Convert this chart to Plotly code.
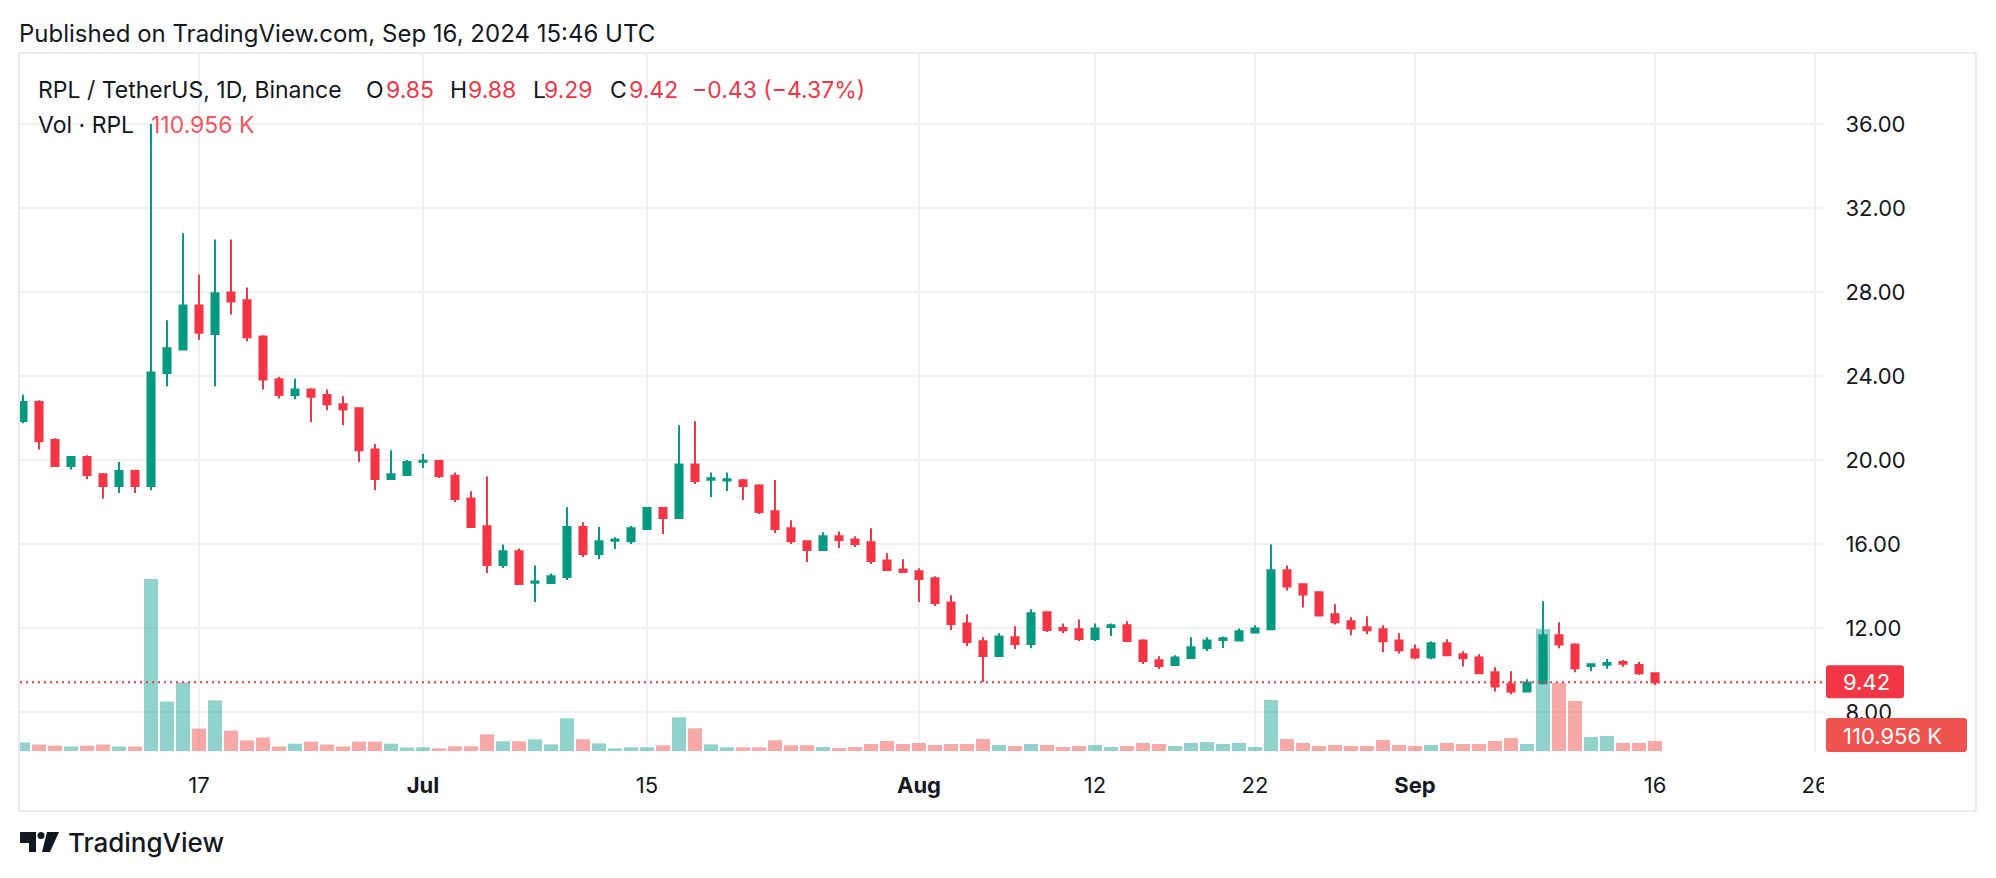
import plotly.graph_objects as go
import pandas as pd

# ---------------- data ----------------
dates = pd.date_range("2024-06-06", "2024-09-16", freq="D")

opens = [21.86, 22.76, 20.95, 19.71, 20.14, 19.32, 18.76, 19.48, 18.76, 24.14,
         25.26, 27.36, 26.00, 27.98, 27.61, 25.88, 23.84, 23.09, 23.36, 23.09,
         22.66, 22.47, 20.50, 19.09, 19.28, 19.92, 19.95, 19.25, 18.17, 16.84,
         15.00, 15.65, 14.16, 14.14, 14.43, 16.81, 15.52, 16.16, 16.13, 16.71,
         17.71, 17.24, 19.79, 19.06, 19.02, 19.03, 18.79, 17.56, 16.75, 16.13,
         15.71, 16.37, 16.22, 16.08, 15.22, 14.79, 14.70, 14.37, 13.22, 12.22,
         11.37, 10.67, 11.56, 11.24, 12.75, 12.00, 11.94, 11.48, 12.05, 12.13,
         11.41, 10.46, 10.24, 10.57, 11.05, 11.43, 11.41, 11.79, 11.94, 14.75,
         14.08, 13.70, 12.65, 12.32, 12.03, 11.94, 11.41, 10.98, 10.60, 11.27,
         10.75, 10.60, 9.89, 9.32, 8.98, 9.37, 11.65, 11.22, 10.19, 10.25,
         10.38, 10.24, 9.85]
highs = [23.11, 22.85, 21.03, 20.17, 20.23, 19.38, 19.90, 19.53, 36.00, 26.66,
         30.80, 28.83, 30.50, 30.50, 28.21, 25.94, 23.96, 23.88, 23.42, 23.36,
         23.03, 22.47, 20.76, 20.47, 20.00, 20.30, 20.00, 19.40, 18.51, 19.22,
         15.98, 15.79, 14.98, 14.60, 17.75, 17.03, 16.81, 16.32, 16.86, 17.73,
         17.76, 21.65, 21.84, 19.41, 19.41, 19.10, 18.84, 19.05, 17.13, 16.17,
         16.56, 16.60, 16.37, 16.75, 15.56, 15.27, 14.84, 14.46, 13.56, 12.65,
         11.56, 11.75, 12.08, 12.89, 12.75, 12.22, 12.41, 12.22, 12.22, 12.32,
         11.46, 10.65, 10.70, 11.56, 11.56, 11.60, 11.98, 12.13, 15.98, 14.98,
         14.13, 13.75, 13.13, 12.51, 12.56, 12.13, 11.75, 11.22, 11.37, 11.46,
         10.89, 10.75, 10.13, 9.94, 9.56, 13.27, 12.27, 11.27, 10.32, 10.52,
         10.48, 10.38, 9.88]
lows = [21.75, 20.50, 19.70, 19.55, 19.09, 18.17, 18.43, 18.43, 18.56, 23.51,
        25.26, 25.71, 23.51, 26.93, 25.65, 23.36, 22.93, 22.89, 21.81, 22.37,
        21.65, 19.90, 18.56, 19.05, 19.28, 19.62, 19.14, 18.00, 16.78, 14.62,
        14.86, 14.05, 13.24, 14.10, 14.29, 15.38, 15.29, 15.76, 16.00, 16.70,
        16.48, 17.24, 18.86, 18.24, 18.52, 18.10, 17.43, 16.52, 16.00, 15.14,
        15.71, 15.81, 15.86, 15.05, 14.71, 14.62, 13.24, 13.05, 11.90, 11.14,
        9.43, 10.67, 11.00, 11.05, 11.81, 11.76, 11.38, 11.38, 11.62, 11.38,
        10.29, 10.05, 10.19, 10.57, 10.90, 11.05, 11.37, 11.75, 11.94, 13.79,
        12.98, 12.60, 12.17, 11.65, 11.70, 10.84, 10.79, 10.51, 10.51, 10.70,
        10.17, 9.84, 8.98, 8.84, 8.94, 9.32, 11.03, 9.89, 9.94, 10.06,
        10.16, 9.76, 9.29]
closes = [22.76, 20.89, 19.71, 20.14, 19.28, 18.76, 19.48, 18.76, 24.17, 25.32,
          27.36, 26.06, 27.94, 27.55, 25.84, 23.83, 23.09, 23.36, 23.01, 22.66,
          22.41, 20.47, 19.09, 19.32, 19.90, 19.97, 19.24, 18.14, 16.81, 15.00,
          15.65, 14.10, 14.22, 14.46, 16.81, 15.52, 16.13, 16.22, 16.75, 17.71,
          17.24, 19.79, 19.00, 19.13, 19.08, 18.76, 17.52, 16.71, 16.13, 15.71,
          16.37, 16.19, 16.00, 15.19, 14.76, 14.67, 14.33, 13.19, 12.19, 11.33,
          10.67, 11.60, 11.24, 12.70, 11.90, 11.89, 11.48, 11.98, 12.13, 11.38,
          10.43, 10.19, 10.60, 11.08, 11.41, 11.51, 11.84, 11.98, 14.75, 13.98,
          13.60, 12.60, 12.27, 11.98, 11.89, 11.37, 10.94, 10.60, 11.27, 10.70,
          10.56, 9.84, 9.22, 8.98, 9.41, 11.65, 11.22, 10.08, 10.27, 10.33,
          10.30, 9.85, 9.42]
volumes_k = [95, 72, 59, 50, 59, 72, 50, 50, 1909, 548, 761, 249, 562, 226, 118,
             150, 50, 81, 104, 72, 50, 104, 104, 81, 39,
             41, 30, 52, 52, 185, 108, 108, 130, 74, 363, 130, 85, 30, 41, 41,
             63, 374, 252, 74, 41, 41, 41, 119, 63, 64,
             44, 33, 44, 78, 111, 78, 89, 67, 78, 78, 133, 67, 55, 78, 67,
             44, 55, 67, 44, 55, 89, 78, 55, 89, 100,
             78, 89, 44, 566, 133, 89, 55, 67, 55, 55, 122, 67, 55, 67, 89,
             78, 78, 111, 144, 78, 1354, 755, 555, 155, 167, 89, 89, 110.956]

price_ticks = [8, 12, 16, 20, 24, 28, 32, 36]
x_tick_dates = ["2024-06-17", "2024-07-01", "2024-07-15", "2024-08-01", "2024-08-12",
                "2024-08-22", "2024-09-01", "2024-09-16", "2024-09-26"]
x_tick_text = ["17", "<b>Jul</b>", "15", "<b>Aug</b>", "12", "22", "<b>Sep</b>", "16", "26"]

last_price = closes[-1]
last_volume_label = "110.956 K"

# ---------------- geometry / style ----------------
W, H = 1996, 878
PL, PR, PT, PB = 20, 1823, 53, 752
FONT = "Inter, Liberation Sans, Arial, sans-serif"
DARK = "#131722"
UP, DOWN = "#089981", "#f23645"
VUP, VDOWN = "rgba(38,166,154,0.5)", "rgba(239,83,80,0.5)"
GRID = "#f0f0f0"

# price axis: 8.00 sits at y=712px, 21 px per unit
p_per = 21.0
y_lo = 8 - (PB - 712) / p_per
y_hi = 8 + (712 - PT) / p_per
# volume axis: base at 751px, 11.1K per px
v_per = 11.1
v_lo = -(PB - 751) * v_per
v_hi = (751 - PT) * v_per
# time axis: Jun 17 at x=199px, 16 px per day
ref = pd.Timestamp("2024-06-17")
x_lo = ref - pd.Timedelta(days=(199 - PL) / 16)
x_hi = ref + pd.Timedelta(days=(PR - 199) / 16)


def xp(px):
    return (px - PL) / (PR - PL)


def yp(py):
    return (PB - py) / (PB - PT)


def round_rect(x0, y0, x1, y1, r):
    """Rounded rectangle path in paper coords from pixel corners."""
    pts = [
        f"M {xp(x0 + r)},{yp(y0)}", f"L {xp(x1 - r)},{yp(y0)}",
        f"Q {xp(x1)},{yp(y0)} {xp(x1)},{yp(y0 + r)}", f"L {xp(x1)},{yp(y1 - r)}",
        f"Q {xp(x1)},{yp(y1)} {xp(x1 - r)},{yp(y1)}", f"L {xp(x0 + r)},{yp(y1)}",
        f"Q {xp(x0)},{yp(y1)} {xp(x0)},{yp(y1 - r)}", f"L {xp(x0)},{yp(y0 + r)}",
        f"Q {xp(x0)},{yp(y0)} {xp(x0 + r)},{yp(y0)}", "Z"]
    return " ".join(pts)


vol_colors = [VUP if c >= o else VDOWN for o, c in zip(opens, closes)]

fig = go.Figure()
fig.add_trace(go.Bar(x=dates, y=volumes_k, marker=dict(color=vol_colors, line=dict(width=0)),
                     yaxis="y", hoverinfo="skip", showlegend=False))
fig.add_trace(go.Candlestick(
    x=dates, open=opens, high=highs, low=lows, close=closes, yaxis="y2",
    increasing=dict(line=dict(color=UP, width=2), fillcolor=UP),
    decreasing=dict(line=dict(color=DOWN, width=2), fillcolor=DOWN),
    whiskerwidth=0, showlegend=False, hoverinfo="skip"))

shapes = []
# outer frame
shapes.append(dict(type="rect", xref="paper", yref="paper", x0=xp(19), x1=xp(1976),
                   y0=yp(811), y1=yp(53), line=dict(color="#e9eaef", width=2), layer="below"))
# last price dotted line
shapes.append(dict(type="line", xref="paper", yref="y2", x0=0, x1=1, y0=last_price, y1=last_price,
                   line=dict(color=DOWN, width=2, dash="2px,4px"), layer="above"))
# clip of the last time label
shapes.append(dict(type="rect", xref="paper", yref="paper", x0=xp(1824), x1=xp(1960),
                   y0=yp(805), y1=yp(762), fillcolor="white", line=dict(width=0), layer="above"))
# price label box
py_last = 712 - (last_price - 8) * p_per
shapes.append(dict(type="path", xref="paper", yref="paper",
                   path=round_rect(1826, py_last - 17, 1904, py_last + 16, 3),
                   fillcolor=DOWN, line=dict(width=0), layer="above"))
# volume label box
shapes.append(dict(type="path", xref="paper", yref="paper",
                   path=round_rect(1826, 718, 1967, 752, 3),
                   fillcolor="#ef5350", line=dict(width=0), layer="above"))
# TradingView logo
logo = ("M {a},{b} L {c},{b} L {c},{d} L {e},{d} L {e},{f} L {a},{f} Z").format(
    a=xp(20), b=yp(832), c=xp(36), d=yp(852), e=xp(29), f=yp(843))
shapes.append(dict(type="path", xref="paper", yref="paper", path=logo, fillcolor=DARK,
                   line=dict(width=0), layer="above"))
shapes.append(dict(type="circle", xref="paper", yref="paper", x0=xp(37.5), x1=xp(44.5),
                   y0=yp(839), y1=yp(832), fillcolor=DARK, line=dict(width=0), layer="above"))
leg = "M {a},{b} L {c},{b} L {d},{e} L {f},{e} Z".format(
    a=xp(47), b=yp(832), c=xp(59), d=xp(50), e=yp(852), f=xp(42))
shapes.append(dict(type="path", xref="paper", yref="paper", path=leg, fillcolor=DARK,
                   line=dict(width=0), layer="above"))

ann = []


def text(s, x, y, color=DARK, size=23, weight=None):
    f = dict(family=FONT, size=size, color=color)
    if weight:
        f["weight"] = weight
    ann.append(dict(text=s, xref="paper", yref="paper", x=xp(x), y=yp(y), xanchor="left",
                    yanchor="middle", showarrow=False, font=f, borderpad=0))


text("Published on TradingView.com, Sep 16, 2024 15:46 UTC", 18, 34, size=24)
text("RPL / TetherUS, 1D, Binance", 37, 90)
for s, x, c in [("O", 365, DARK), ("9.85", 385, DOWN), ("H", 449, DARK), ("9.88", 467, DOWN),
                ("L", 532, DARK), ("9.29", 543, DOWN), ("C", 609, DARK), ("9.42", 628, DOWN),
                ("−0.43 (−4.37%)", 691, DOWN)]:
    text(s, x, 90, c)
text("Vol · RPL", 37, 125)
text(last_volume_label, 150, 125, "#f7525f")
text(f"{last_price:.2f}", 1842, py_last, "white", 22)
text(last_volume_label, 1842, 736, "white", 22)
text("TradingView", 67, 843, size=26, weight=500)

fig.update_layout(
    width=W, height=H, autosize=False,
    margin=dict(l=PL, r=W - PR, t=PT, b=H - PB, pad=0),
    paper_bgcolor="white", plot_bgcolor="white",
    showlegend=False, boxgap=0.37, bargap=0.12, hovermode=False,
    font=dict(family=FONT, color=DARK),
    xaxis=dict(type="date", range=[x_lo, x_hi], tickvals=x_tick_dates, ticktext=x_tick_text,
               showgrid=True, gridcolor=GRID, gridwidth=2, zeroline=False, showline=False,
               ticks="", tickfont=dict(size=22, color=DARK, family=FONT),
               ticklabelstandoff=18, rangeslider=dict(visible=False), fixedrange=True),
    yaxis=dict(range=[v_lo, v_hi], visible=False, showgrid=False, zeroline=False, fixedrange=True),
    yaxis2=dict(overlaying="y", side="right", range=[y_lo, y_hi], tickvals=price_ticks,
                tickformat=".2f", showgrid=True, gridcolor=GRID, gridwidth=2, zeroline=False,
                showline=False, ticks="outside", ticklen=17, tickcolor="rgba(0,0,0,0)",
                tickfont=dict(size=22, color=DARK, family=FONT), fixedrange=True),
    shapes=shapes, annotations=ann,
)

fig.write_html("out.html")
